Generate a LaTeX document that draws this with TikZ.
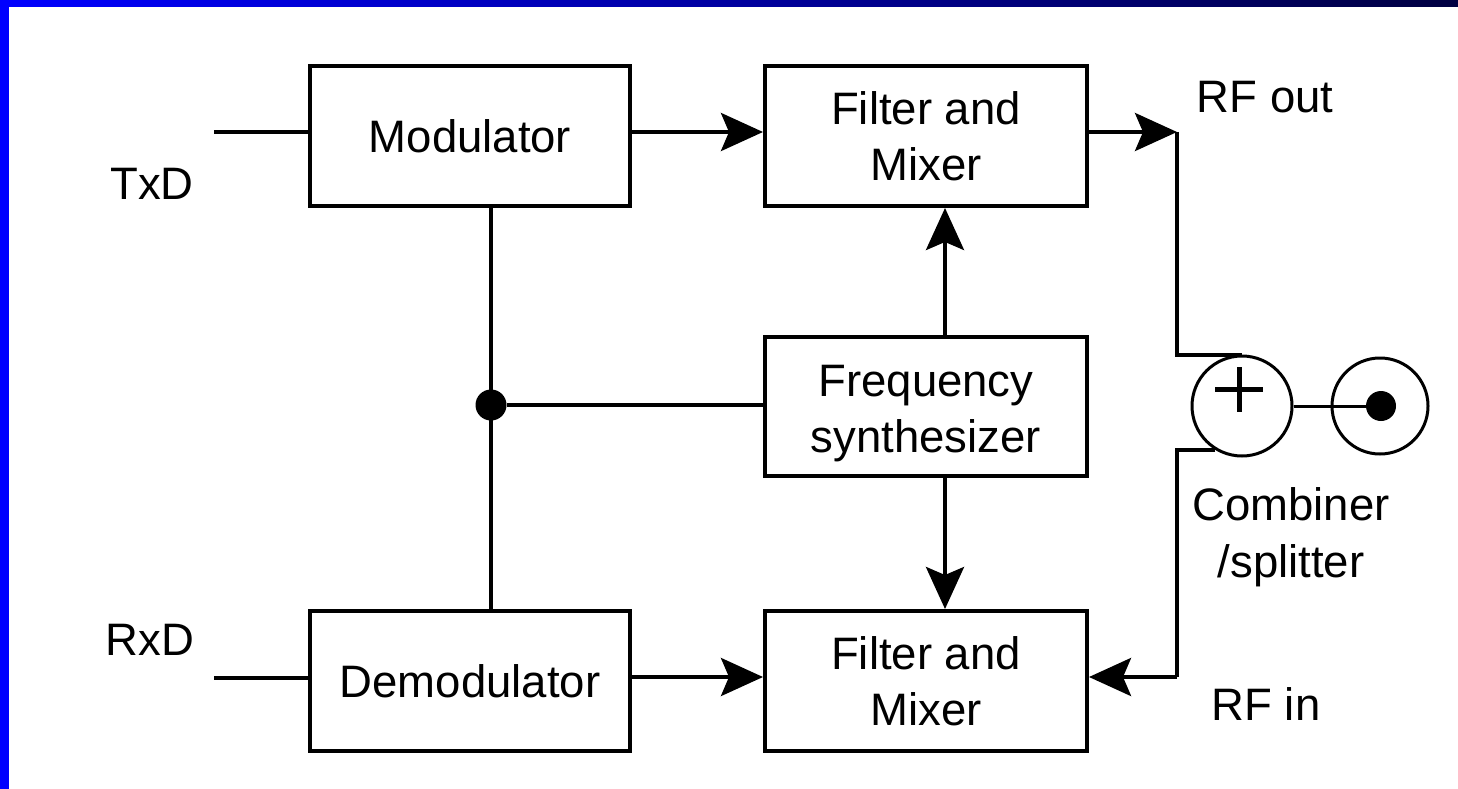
\documentclass[tikz,border=0pt]{standalone}
\usepackage{fontspec}
\setmainfont{Liberation Sans}
\usetikzlibrary{arrows.meta,calc}
\definecolor{slideblue}{RGB}{0,0,255}
\definecolor{slidenavy}{RGB}{0,0,65}
\definecolor{slidemid}{RGB}{0,0,185}
\begin{document}
\begin{tikzpicture}[x=1pt,y=-1pt,
  blk/.style={draw, line width=4pt, minimum width=320pt, minimum height=140pt, inner sep=0pt, font=\fontsize{45.5}{56}\selectfont, align=center},
  lbl/.style={inner sep=0pt, font=\fontsize{45.5}{57}\selectfont, align=center},
  wire/.style={line width=4pt},
  arr/.style={wire, -{Stealth[length=42pt,width=38pt,inset=8pt]}},
  dotnode/.style={circle, fill, inner sep=0pt},
  ringnode/.style={draw, circle, line width=3pt, inner sep=0pt}
  ]
\useasboundingbox (0,0) rectangle (1458,789);
\fill[white] (0,0) rectangle (1458,789);
\shade[left color=slideblue, middle color=slidemid, right color=slidenavy] (0,0) rectangle (1458,7);
\fill[slideblue] (0,0) rectangle (9,789);

% blocks
\node[blk] (mod) at (470,136) {Modulator};
\node[blk, minimum width=322pt] (fm1) at (926,136) {Filter and\\Mixer};
\node[blk, minimum width=322pt, minimum height=139pt] (fs) at (926,406.5) {\rule{0pt}{45pt}Frequency\\synthesizer};
\node[blk, minimum width=322pt] (fm2) at (926,681) {Filter and\\Mixer};
\node[blk] (demod) at (470,681) {Demodulator};

% combiner / antenna
\node[ringnode, minimum size=100pt] (comb) at (1242,406) {};
\draw[line width=5pt] ([shift={(-27,-17)}]comb.center) -- ++(48,0)
                      ([shift={(-3,-39)}]comb.center) -- ++(0,45);
\node[ringnode, minimum size=96pt] (ant) at (1380,406) {};
\node[dotnode, minimum size=30pt] (antdot) at (1381,406) {};
\draw[line width=3pt] (comb.east) -- (antdot.center);

% junction
\node[dotnode, minimum size=31pt] (junc) at (491,405) {};

% free ends
\coordinate (txin) at (214,132);
\coordinate (rxin) at (214,678);
\coordinate (rfo) at (1177,132);
\coordinate (rfi) at (1177,677);

% connectors
\draw[wire] (txin) -- (txin -| mod.west);
\draw[wire] (rxin) -- (rxin -| demod.west);
\draw[wire] (mod.south -| junc) -- (demod.north -| junc);
\draw[wire] (junc) -- (fs.west |- junc);
\draw[arr] ([yshift=4pt]mod.east) -- ([yshift=4pt]fm1.west);
\draw[arr] ([yshift=4pt]fm1.east) -- (rfo);
\draw[wire] (rfo) |- (comb.north);
\draw[wire] (comb.-121) -| (rfi);
\draw[arr] (rfi) -- ([yshift=4pt]fm2.east);
\draw[arr] ([yshift=4pt]demod.east) -- ([yshift=4pt]fm2.west);
\draw[arr] ([xshift=19pt]fs.north) -- ([xshift=19pt]fm1.south);
\draw[arr] ([xshift=19pt]fs.south) -- ([xshift=19pt]fm2.north);

% labels
\node[lbl] (txd) at (152,184) {TxD};
\node[lbl] (rxd) at (150,640) {RxD};
\node[lbl] (rfout) at (1265,97) {RF out};
\node[lbl] (combl) at (1291,537) {Combiner\\/splitter};
\node[lbl] (rfin) at (1266,704) {RF in};
\end{tikzpicture}
\end{document}
